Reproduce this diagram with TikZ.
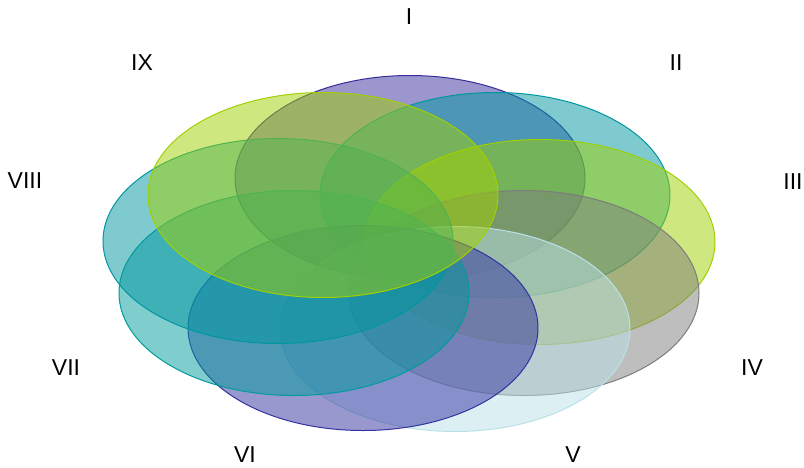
\documentclass[tikz,border=0pt]{standalone}
\usepackage{fontspec}
\setmainfont{Liberation Sans}
\usepackage{tikz}
\usetikzlibrary{shapes.geometric}
\usepackage{xcolor}
\definecolor{cI}{RGB}{55,45,155}
\definecolor{cII}{RGB}{0,150,160}
\definecolor{cIII}{RGB}{158,208,0}
\definecolor{cIV}{RGB}{125,125,125}
\definecolor{cV}{RGB}{185,225,232}
\definecolor{cVI}{RGB}{50,50,160}
\definecolor{cVII}{RGB}{0,155,155}
\definecolor{cVIII}{RGB}{0,150,160}
\definecolor{cIX}{RGB}{160,208,0}

\begin{document}
\begin{tikzpicture}[x=1pt, y=-1pt,
			petal/.style={ellipse, draw=#1, fill=#1, fill opacity=0.5, draw opacity=1,
				line width=1pt, minimum width=350pt, minimum height=205pt, inner sep=0pt},
			lbl/.style={font=\fontsize{23}{27}\selectfont, text=black, inner sep=0pt}
			]
			\useasboundingbox (0,0) rectangle (804,467);
			% nine ellipses, drawn from I round to IX
			\node[petal=cI]    (eI)    at (410,178) {};
			\node[petal=cII]   (eII)   at (495,195) {};
			\node[petal=cIII]  (eIII)  at (540,242) {};
			\node[petal=cIV]   (eIV)   at (524,293) {};
			\node[petal=cV]    (eV)    at (455,329) {};
			\node[petal=cVI]   (eVI)   at (363,328) {};
			\node[petal=cVII]  (eVII)  at (294,293) {};
			\node[petal=cVIII] (eVIII) at (278,241) {};
			\node[petal=cIX]   (eIX)   at (323,195) {};
			% labels round the outside
			\node[lbl] (lI)    at (409,17)  {I};
			\node[lbl] (lII)   at (676,63)  {II};
			\node[lbl] (lIII)  at (793,182) {III};
			\node[lbl] (lIV)   at (752,368) {IV};
			\node[lbl] (lV)    at (573,455) {V};
			\node[lbl] (lVI)   at (245,455) {VI};
			\node[lbl] (lVII)  at (66,368)  {VII};
			\node[lbl] (lVIII) at (25,181)  {VIII};
			\node[lbl] (lIX)   at (142,63)  {IX};
\end{tikzpicture}
\end{document}
